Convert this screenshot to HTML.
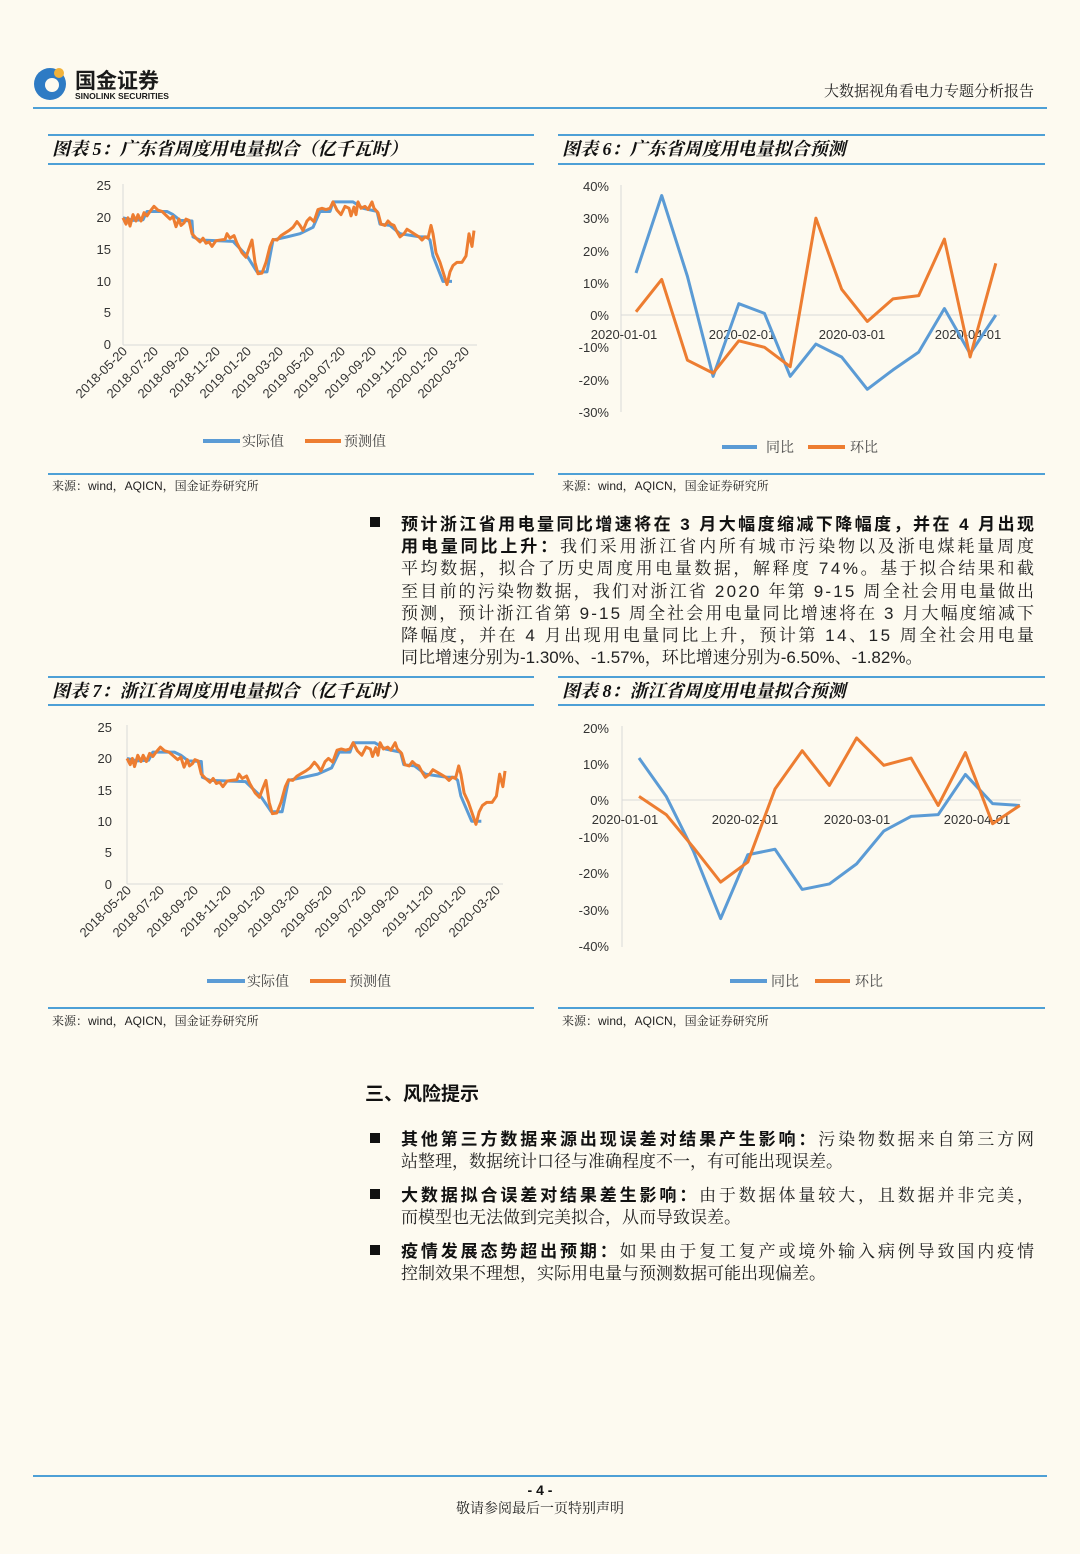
<!DOCTYPE html>
<html><head><meta charset="utf-8"><style>
html,body{margin:0;padding:0;background:#fdfaf0}
svg{display:block}
.t{font-family:"Liberation Serif","Noto Serif CJK SC",serif}
.s{font-family:"Liberation Sans","Noto Sans CJK SC",sans-serif}
.ax{font-family:"Liberation Sans","Noto Sans CJK SC",sans-serif;font-size:13px;fill:#333}
.ttl{font-family:"Liberation Serif","Noto Serif CJK SC",serif;font-size:18px;font-weight:bold;font-style:italic;fill:#111}
.src{font-family:"Liberation Sans","Noto Serif CJK SC",sans-serif;font-size:12px;fill:#222}
.body{font-family:"Liberation Sans","Noto Serif CJK SC",serif;font-size:17px;fill:#222}
.b{font-family:"Liberation Sans","Noto Sans CJK SC",sans-serif;font-weight:bold;font-size:17px;fill:#111}
.rule{stroke:#4ea0d6;stroke-width:2}
.bl{fill:none;stroke:#5b9bd5;stroke-width:3;stroke-linejoin:round;vector-effect:non-scaling-stroke}
.or{fill:none;stroke:#ed7d31;stroke-width:3;stroke-linejoin:round;vector-effect:non-scaling-stroke}
.grid{stroke:#d9d9d9;stroke-width:1}
</style></head><body>
<svg width="1080" height="1554" viewBox="0 0 1080 1554" xmlns="http://www.w3.org/2000/svg">
<rect width="1080" height="1554" fill="#fdfaf0"/>
<!-- header -->
<circle cx="50" cy="84" r="16" fill="#2e7bc4"/>
<circle cx="52" cy="85" r="7" fill="#fdfaf0"/>
<circle cx="59" cy="73" r="5" fill="#f2b23a"/>
<text x="75" y="88" class="s" font-size="21" font-weight="bold" fill="#1a1a1a">国金证券</text>
<text x="75" y="99" class="s" font-size="8.5" font-weight="bold" fill="#1a1a1a">SINOLINK SECURITIES</text>
<text x="1034" y="96" class="t" font-size="15" text-anchor="end" fill="#222">大数据视角看电力专题分析报告</text>
<line x1="33" y1="108" x2="1047" y2="108" class="rule"/>

<!-- panel rules -->
<g class="rule">
<line x1="48" y1="135" x2="534" y2="135"/><line x1="48" y1="164" x2="534" y2="164"/><line x1="48" y1="474" x2="534" y2="474"/>
<line x1="558" y1="135" x2="1045" y2="135"/><line x1="558" y1="164" x2="1045" y2="164"/><line x1="558" y1="474" x2="1045" y2="474"/>
<line x1="48" y1="677" x2="534" y2="677"/><line x1="48" y1="705" x2="534" y2="705"/><line x1="48" y1="1008" x2="534" y2="1008"/>
<line x1="558" y1="677" x2="1045" y2="677"/><line x1="558" y1="705" x2="1045" y2="705"/><line x1="558" y1="1008" x2="1045" y2="1008"/>
</g>
<text x="52" y="155" class="ttl">图表 5：广东省周度用电量拟合（亿千瓦时）</text>
<text x="562" y="155" class="ttl">图表 6：广东省周度用电量拟合预测</text>
<text x="52" y="697" class="ttl">图表 7：浙江省周度用电量拟合（亿千瓦时）</text>
<text x="562" y="697" class="ttl">图表 8：浙江省周度用电量拟合预测</text>
<text x="52" y="490" class="src">来源：wind，AQICN，国金证券研究所</text>
<text x="562" y="490" class="src">来源：wind，AQICN，国金证券研究所</text>
<text x="52" y="1025" class="src">来源：wind，AQICN，国金证券研究所</text>
<text x="562" y="1025" class="src">来源：wind，AQICN，国金证券研究所</text>

<!-- chart 5 -->
<g>
<line x1="123" y1="184" x2="123" y2="345" class="grid"/>
<line x1="123" y1="345" x2="477" y2="345" class="grid"/>
<g class="ax" text-anchor="end">
<text x="111" y="190">25</text><text x="111" y="222">20</text><text x="111" y="254">15</text><text x="111" y="286">10</text><text x="111" y="317">5</text><text x="111" y="349">0</text>
</g>
<g class="ax" font-size="12" text-anchor="end">
<text transform="translate(128,352) rotate(-45)">2018-05-20</text>
<text transform="translate(159,352) rotate(-45)">2018-07-20</text>
<text transform="translate(190,352) rotate(-45)">2018-09-20</text>
<text transform="translate(221,352) rotate(-45)">2018-11-20</text>
<text transform="translate(252,352) rotate(-45)">2019-01-20</text>
<text transform="translate(284,352) rotate(-45)">2019-03-20</text>
<text transform="translate(315,352) rotate(-45)">2019-05-20</text>
<text transform="translate(346,352) rotate(-45)">2019-07-20</text>
<text transform="translate(377,352) rotate(-45)">2019-09-20</text>
<text transform="translate(408,352) rotate(-45)">2019-11-20</text>
<text transform="translate(439,352) rotate(-45)">2020-01-20</text>
<text transform="translate(470,352) rotate(-45)">2020-03-20</text>
</g>
<g transform="translate(0,345) scale(1,-6.36)">
<polyline id="blue5" class="bl" points="123,20 133,19.6 143,19.7 147,21 167,21 173,20.5 180,19.6 192,19.5 193,17 200,16.5 233,16.3 247,14 257,11.5 267,11.5 273,16.5 287,17 300,17.5 313,18.5 320,21 330,21 333,22.5 353,22.5 363,21.5 377,21 380,19 390,18.8 400,17.5 420,17 427,17 430,16.5 433,14 443,10 452,10"/>
<polyline id="or5" class="or" points="123,20 126,19 128,20 130,18.7 133,20.5 136,19.5 138,20.5 141,19.5 144,20.8 147,20.3 150,21 154,21.8 158,21.2 162,21 166,20.4 170,19.8 173,20.2 176,18.6 179,19.8 181,18.8 184,19.2 186,19.8 189,19.6 192,17.5 196,16.8 200,16.2 203,16.8 206,16 209,16.2 212,15.5 216,16.4 220,16.5 225,16.6 227,17.5 230,16.8 234,17.2 237,16 242,14.5 246,13.8 249,15.2 252,16.5 255,13 258,11.2 262,11.3 266,13 270,15.5 273,16.6 277,16.5 281,17.2 285,17.6 289,18 293,18.5 297,19.4 300,18.8 303,18 307,19.5 310,20 314,19.4 318,21.3 322,21.5 326,21.3 330,21.5 333,22.5 337,21.2 341,20.5 345,21.8 349,21.5 351,20.3 354,21.7 356,20.5 358,22.5 361,21.5 365,21.8 368,21.3 372,22.5 374,21.5 378,20.8 381,19 385,18.8 388,19.5 391,19 394,18.8 397,17.8 400,17 404,17.5 407,18.2 411,17.8 415,17.4 419,17 422,16.5 425,17 428,16.8 431,18.8 433,17.5 436,14.5 440,13 443,11.5 447,9.5 450,11.5 453,12.5 457,13 462,13 466,14 469,17.5 472,15.5 474,18"/>
</g>
<line x1="203" y1="441" x2="240" y2="441" stroke="#5b9bd5" stroke-width="4"/>
<text x="242" y="446" class="t" font-size="14" fill="#444">实际值</text>
<line x1="305" y1="441" x2="341" y2="441" stroke="#ed7d31" stroke-width="4"/>
<text x="344" y="446" class="t" font-size="14" fill="#444">预测值</text>
</g>

<!-- chart 7 -->
<g>
<line x1="127" y1="725" x2="127" y2="884" class="grid"/>
<line x1="127" y1="884" x2="503" y2="884" class="grid"/>
<g class="ax" text-anchor="end">
<text x="112" y="732">25</text><text x="112" y="763">20</text><text x="112" y="795">15</text><text x="112" y="826">10</text><text x="112" y="857">5</text><text x="112" y="889">0</text>
</g>
<g class="ax" font-size="12" text-anchor="end">
<text transform="translate(132,891) rotate(-45)">2018-05-20</text>
<text transform="translate(165,891) rotate(-45)">2018-07-20</text>
<text transform="translate(199,891) rotate(-45)">2018-09-20</text>
<text transform="translate(232,891) rotate(-45)">2018-11-20</text>
<text transform="translate(266,891) rotate(-45)">2019-01-20</text>
<text transform="translate(300,891) rotate(-45)">2019-03-20</text>
<text transform="translate(333,891) rotate(-45)">2019-05-20</text>
<text transform="translate(367,891) rotate(-45)">2019-07-20</text>
<text transform="translate(400,891) rotate(-45)">2019-09-20</text>
<text transform="translate(434,891) rotate(-45)">2019-11-20</text>
<text transform="translate(467,891) rotate(-45)">2020-01-20</text>
<text transform="translate(501,891) rotate(-45)">2020-03-20</text>
</g>
<g transform="translate(127,884) scale(1.077,-6.28) translate(-123,0)">
<use href="#blue5"/><use href="#or5"/>
</g>
<line x1="207" y1="981" x2="245" y2="981" stroke="#5b9bd5" stroke-width="4"/>
<text x="247" y="986" class="t" font-size="14" fill="#444">实际值</text>
<line x1="310" y1="981" x2="346" y2="981" stroke="#ed7d31" stroke-width="4"/>
<text x="349" y="986" class="t" font-size="14" fill="#444">预测值</text>
</g>

<!-- chart 6 -->
<g>
<line x1="621" y1="185" x2="621" y2="412" class="grid"/>
<line x1="621" y1="315" x2="1000" y2="315" class="grid"/>
<g class="ax" text-anchor="end" font-size="12.5">
<text x="609" y="191">40%</text><text x="609" y="223">30%</text><text x="609" y="256">20%</text><text x="609" y="288">10%</text><text x="609" y="320">0%</text><text x="609" y="352">-10%</text><text x="609" y="385">-20%</text><text x="609" y="417">-30%</text>
</g>
<g class="ax" text-anchor="middle" font-size="12.5">
<text x="624" y="339">2020-01-01</text><text x="742" y="339">2020-02-01</text><text x="852" y="339">2020-03-01</text><text x="968" y="339">2020-04-01</text>
</g>
<g transform="translate(636,315) scale(25.7,-3.23)">
<polyline class="bl" points="0,13 1,37 2,12 3,-19 4,3.5 5,0.5 6,-19 7,-9 8,-13 9,-23 10,-17 11,-11.5 12,2 13,-12 14,0"/>
<polyline class="or" points="0,1 1,11 2,-14 3,-18 4,-8 5,-10 6,-16 7,30 8,8 9,-2 10,5 11,6 12,23.5 13,-13 14,16"/>
</g>
<line x1="722" y1="447" x2="757" y2="447" stroke="#5b9bd5" stroke-width="4"/>
<text x="766" y="452" class="t" font-size="14" fill="#444">同比</text>
<line x1="808" y1="447" x2="845" y2="447" stroke="#ed7d31" stroke-width="4"/>
<text x="850" y="452" class="t" font-size="14" fill="#444">环比</text>
</g>

<!-- chart 8 -->
<g>
<line x1="622" y1="726" x2="622" y2="947" class="grid"/>
<line x1="622" y1="800" x2="1021" y2="800" class="grid"/>
<g class="ax" text-anchor="end" font-size="12.5">
<text x="609" y="733">20%</text><text x="609" y="769">10%</text><text x="609" y="805">0%</text><text x="609" y="842">-10%</text><text x="609" y="878">-20%</text><text x="609" y="915">-30%</text><text x="609" y="951">-40%</text>
</g>
<g class="ax" text-anchor="middle" font-size="12.5">
<text x="625" y="824">2020-01-01</text><text x="745" y="824">2020-02-01</text><text x="857" y="824">2020-03-01</text><text x="977" y="824">2020-04-01</text>
</g>
<g transform="translate(639,800) scale(27.2,-3.65)">
<polyline class="bl" points="0,11.5 1,1 2,-14 3,-32.5 4,-15 5,-13.5 6,-24.5 7,-23 8,-17.5 9,-8.5 10,-4.5 11,-4 12,7 13,-1 14,-1.5"/>
<polyline class="or" points="0,1 1,-4 2,-13 3,-22.5 4,-17 5,3 6,13.5 7,4 8,17 9,9.5 10,11.5 11,-1.5 12,13 13,-6.5 14,-1.5"/>
</g>
<line x1="730" y1="981" x2="767" y2="981" stroke="#5b9bd5" stroke-width="4"/>
<text x="771" y="986" class="t" font-size="14" fill="#444">同比</text>
<line x1="815" y1="981" x2="850" y2="981" stroke="#ed7d31" stroke-width="4"/>
<text x="855" y="986" class="t" font-size="14" fill="#444">环比</text>
</g>

<!-- paragraph -->
<rect x="370" y="517" width="10" height="10" fill="#111"/>
<text x="401" y="530" class="b" textLength="633" lengthAdjust="spacing">预计浙江省用电量同比增速将在 3 月大幅度缩减下降幅度，并在 4 月出现</text>
<text x="401" y="552" class="body" textLength="633" lengthAdjust="spacing"><tspan class="b">用电量同比上升：</tspan>我们采用浙江省内所有城市污染物以及浙电煤耗量周度</text>
<text x="401" y="574" class="body" textLength="633" lengthAdjust="spacing">平均数据，拟合了历史周度用电量数据，解释度 74%。基于拟合结果和截</text>
<text x="401" y="597" class="body" textLength="633" lengthAdjust="spacing">至目前的污染物数据，我们对浙江省 2020 年第 9-15 周全社会用电量做出</text>
<text x="401" y="619" class="body" textLength="633" lengthAdjust="spacing">预测，预计浙江省第 9-15 周全社会用电量同比增速将在 3 月大幅度缩减下</text>
<text x="401" y="641" class="body" textLength="633" lengthAdjust="spacing">降幅度，并在 4 月出现用电量同比上升，预计第 14、15 周全社会用电量</text>
<text x="401" y="663" class="body">同比增速分别为-1.30%、-1.57%，环比增速分别为-6.50%、-1.82%。</text>

<!-- risk -->
<text x="365" y="1100" class="s" font-size="19" font-weight="bold" fill="#111">三、风险提示</text>
<rect x="370" y="1133" width="10" height="10" fill="#111"/>
<text x="401" y="1145" class="body" textLength="633" lengthAdjust="spacing"><tspan class="b">其他第三方数据来源出现误差对结果产生影响：</tspan>污染物数据来自第三方网</text>
<text x="401" y="1167" class="body">站整理，数据统计口径与准确程度不一，有可能出现误差。</text>
<rect x="370" y="1189" width="10" height="10" fill="#111"/>
<text x="401" y="1201" class="body" textLength="633" lengthAdjust="spacing"><tspan class="b">大数据拟合误差对结果差生影响：</tspan>由于数据体量较大，且数据并非完美，</text>
<text x="401" y="1223" class="body">而模型也无法做到完美拟合，从而导致误差。</text>
<rect x="370" y="1245" width="10" height="10" fill="#111"/>
<text x="401" y="1257" class="body" textLength="633" lengthAdjust="spacing"><tspan class="b">疫情发展态势超出预期：</tspan>如果由于复工复产或境外输入病例导致国内疫情</text>
<text x="401" y="1279" class="body">控制效果不理想，实际用电量与预测数据可能出现偏差。</text>

<!-- footer -->
<line x1="33" y1="1476" x2="1047" y2="1476" class="rule"/>
<text x="540" y="1495" class="s" font-size="14" font-weight="bold" text-anchor="middle" fill="#111">- 4 -</text>
<text x="540" y="1513" class="t" font-size="14" text-anchor="middle" fill="#222">敬请参阅最后一页特别声明</text>
</svg>
</body></html>
